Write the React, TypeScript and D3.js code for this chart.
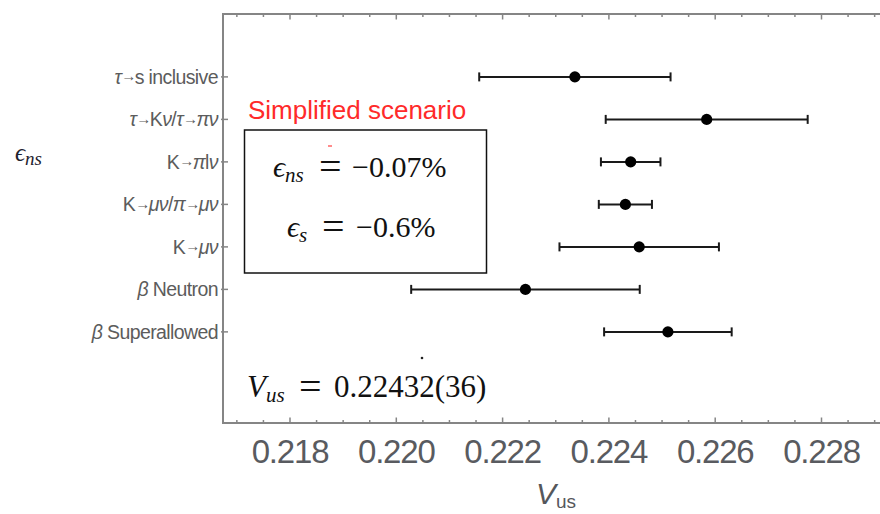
import React from "react";
import * as d3 from "d3";

// Vus determinations, listed top to bottom
const categories = [
  "τ→s inclusive",
  "τ→Kν/τ→πν",
  "K→πlν",
  "K→μν/π→μν",
  "K→μν",
  "β Neutron",
  "β Superallowed",
];
const centralValues = [0.22336, 0.22584, 0.22441, 0.22431, 0.22457, 0.22243, 0.22511];
const errorValues = [0.0018, 0.0019, 0.00056, 0.0005, 0.0015, 0.00215, 0.0012];

const majorTicks = [0.218, 0.22, 0.222, 0.224, 0.226, 0.228];
const minorTicks = d3.range(0, 26).map((i) => 0.217 + i * 0.0005);

const W = 880;
const H = 514;
const frame = { left: 223, top: 14, bottom: 423 };

const x = d3.scaleLinear().domain([0.218, 0.228]).range([290, 821.5]);
const y = d3.scaleLinear().domain([-1.48, 8.144]).range([frame.top, frame.bottom]);

const greek = /^[τνπμβ]$/;

function CategoryLabel({ text, yPos }: { text: string; yPos: number }) {
  const parts = text.split(/([τνπμβ]|→)/).filter((p) => p.length > 0);
  let shifted = false;
  return (
    <text
      x={frame.left - 5}
      y={yPos}
      dy="0.35em"
      textAnchor="end"
      fontFamily="Liberation Sans, Arial, sans-serif"
      fontSize={19.5}
      letterSpacing={-0.6}
      fill="#5c5c5c"
    >
      {parts.map((p, i) => {
        const isArrow = p === "→";
        let dy: number | undefined;
        if (isArrow) {
          dy = -2.5;
          shifted = true;
        } else if (shifted) {
          dy = 2.5;
          shifted = false;
        }
        return (
          <tspan
            key={i}
            dy={dy}
            fontStyle={greek.test(p) ? "italic" : "normal"}
            fontSize={isArrow ? 15 : undefined}
            letterSpacing={isArrow ? -1.5 : undefined}
          >
            {p}
          </tspan>
        );
      })}
    </text>
  );
}

export default function App() {
  const serif = "Liberation Serif, DejaVu Serif, serif";
  const frameColor = "#858585";
  return (
    <svg
      width={W}
      height={H}
      style={{ position: "fixed", left: 0, top: 0, background: "#fff" }}
    >
      <rect x={0} y={0} width={W} height={H} fill="#fff" />

      {/* frame */}
      <path
        d={`M${W + 5},${frame.top} H${frame.left} V${frame.bottom} H${W + 5}`}
        fill="none"
        stroke={frameColor}
        strokeWidth={2}
      />

      {/* frame ticks, top and bottom */}
      {minorTicks.map((t, i) => {
        const major = majorTicks.some((m) => Math.abs(m - t) < 1e-7);
        const len = major ? 5.5 : 3;
        const xp = x(t);
        if (xp < frame.left + 2) return null;
        return (
          <g key={i} stroke={frameColor} strokeWidth={1.5}>
            <line x1={xp} x2={xp} y1={frame.top} y2={frame.top + len} />
            <line x1={xp} x2={xp} y1={frame.bottom} y2={frame.bottom - len} />
          </g>
        );
      })}

      {/* tick labels */}
      {majorTicks.map((t) => (
        <text
          key={t}
          x={x(t)}
          y={463}
          textAnchor="middle"
          fontFamily="Liberation Sans, Arial, sans-serif"
          fontSize={33}
          letterSpacing={-1.2}
          fill="#595b60"
        >
          {t.toFixed(3)}
        </text>
      ))}

      {/* axis title */}
      <text
        x={556}
        y={504}
        textAnchor="middle"
        fontFamily="Liberation Sans, Arial, sans-serif"
        fill="#55575c"
      >
        <tspan fontStyle="italic" fontSize={30}>V</tspan>
        <tspan fontSize={19} dy={4}>us</tspan>
      </text>

      {/* category ticks and labels */}
      {categories.map((c, i) => (
        <g key={c}>
          <line
            x1={frame.left - 2}
            x2={frame.left + 5}
            y1={y(i)}
            y2={y(i)}
            stroke={frameColor}
            strokeWidth={1.5}
          />
          <CategoryLabel text={c} yPos={y(i)} />
        </g>
      ))}

      {/* error bars */}
      {categories.map((c, i) => {
        const lo = x(centralValues[i] - errorValues[i]);
        const hi = x(centralValues[i] + errorValues[i]);
        const yp = y(i);
        return (
          <g key={c} stroke="#1a1a1a" strokeWidth={2}>
            <line x1={lo} x2={hi} y1={yp} y2={yp} />
            <line x1={lo} x2={lo} y1={yp - 4.5} y2={yp + 4.5} />
            <line x1={hi} x2={hi} y1={yp - 4.5} y2={yp + 4.5} />
            <circle cx={x(centralValues[i])} cy={yp} r={5.6} fill="#000" stroke="none" />
          </g>
        );
      })}

      {/* side label */}
      <text x={15} y={161} fontFamily={serif} fill="#1f2330">
        <tspan fontStyle="italic" fontSize={25}>ϵ</tspan>
        <tspan fontStyle="italic" fontSize={19} dy={4}>ns</tspan>
      </text>

      {/* scenario annotation */}
      <text
        x={248}
        y={119}
        fontFamily="Liberation Sans, Arial, sans-serif"
        fontSize={26}
        fill="#ff2a2a"
      >
        Simplified scenario
      </text>
      <line x1={328} x2={332} y1={146} y2={146} stroke="#ff4040" strokeWidth={1.2} />
      <rect x={244.5} y={130} width={242} height={143} fill="none" stroke="#111" strokeWidth={1.5} />
      <text y={177} fontFamily={serif} fontSize={30} fill="#111">
        <tspan x={273} fontStyle="italic">ϵ</tspan>
        <tspan fontStyle="italic" fontSize={21} dy={5}>ns</tspan>
        <tspan x={319} dy={-2} fontSize={40}>=</tspan>
        <tspan x={352} dy={-3}>−0.07%</tspan>
      </text>
      <text y={237} fontFamily={serif} fontSize={30} fill="#111">
        <tspan x={287} fontStyle="italic">ϵ</tspan>
        <tspan fontStyle="italic" fontSize={21} dy={5}>s</tspan>
        <tspan x={322} dy={-2} fontSize={40}>=</tspan>
        <tspan x={356} dy={-3}>−0.6%</tspan>
      </text>

      {/* combined result */}
      <circle cx={422} cy={358} r={1.3} fill="#222" />
      <text y={397} fontFamily={serif} fontSize={31} fill="#111">
        <tspan x={247} fontStyle="italic">V</tspan>
        <tspan fontStyle="italic" fontSize={21} dy={5}>us</tspan>
        <tspan x={299} dy={-2} fontSize={40}>=</tspan>
        <tspan x={334} dy={-3}>0.22432(36)</tspan>
      </text>
    </svg>
  );
}
